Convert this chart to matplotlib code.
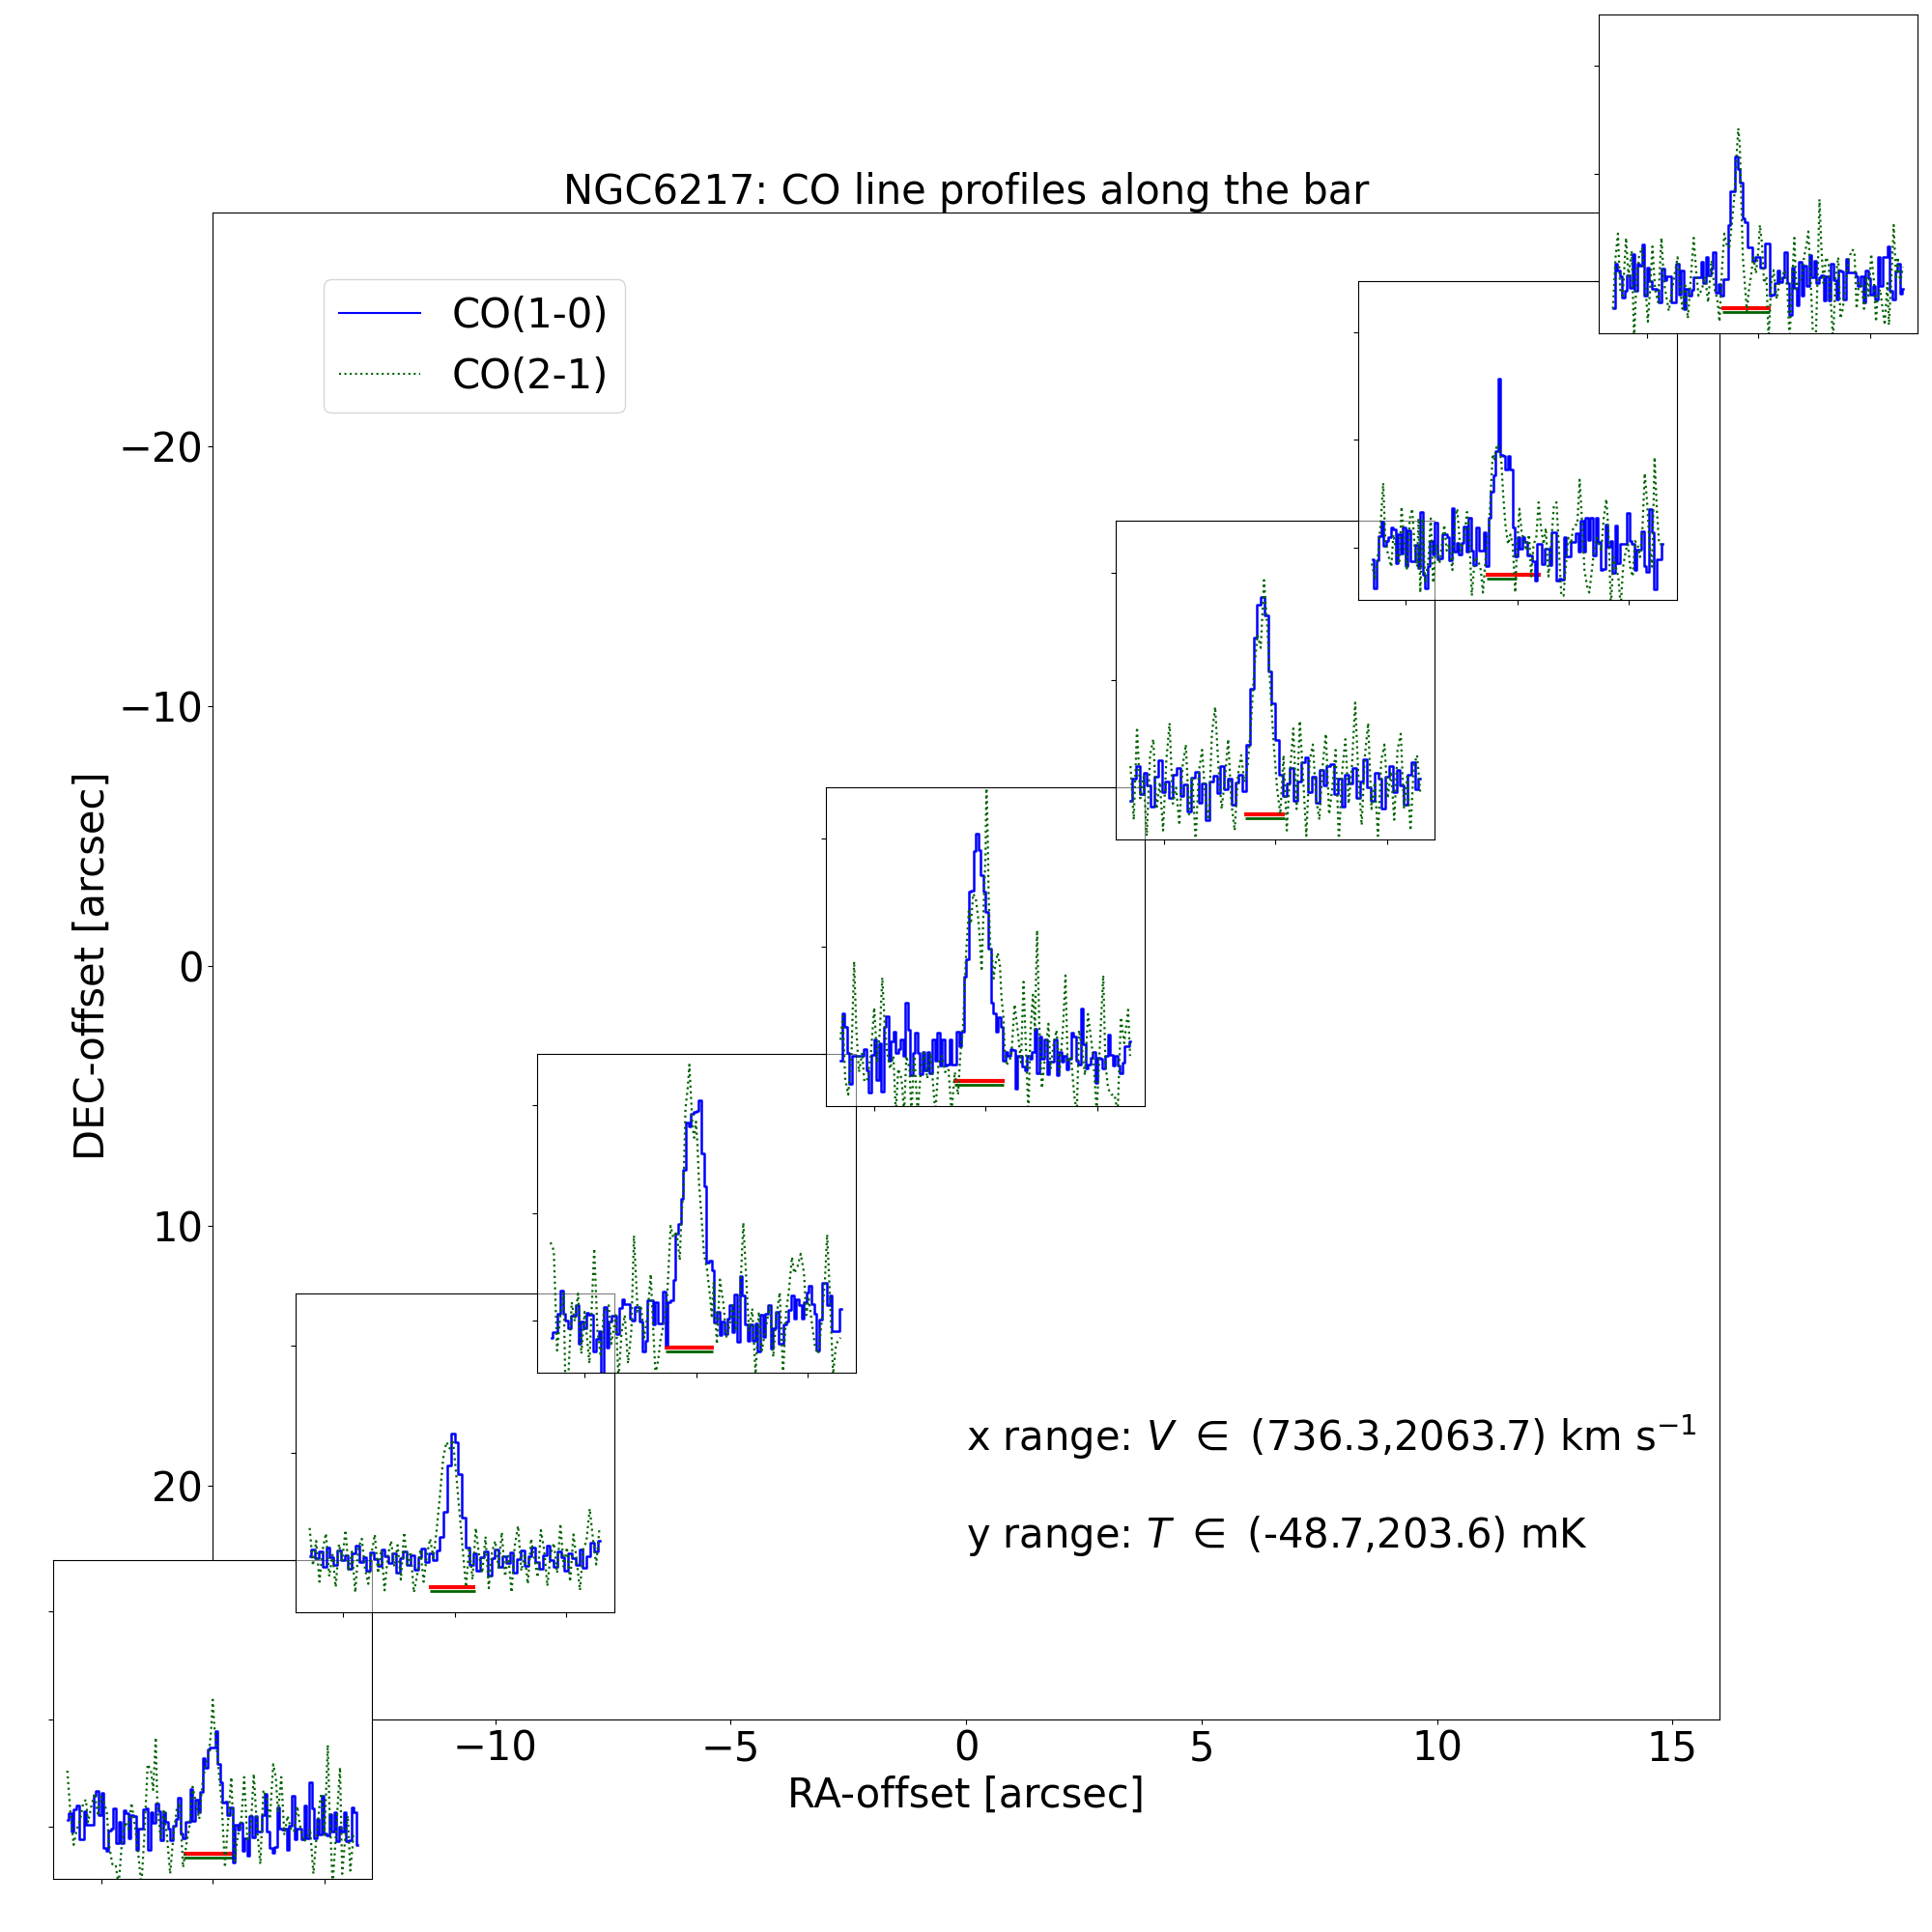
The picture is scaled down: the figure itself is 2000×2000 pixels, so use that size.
import numpy as np
import matplotlib
matplotlib.use("Agg")
import matplotlib.pyplot as plt

plt.rcParams['font.size'] = 30

# positions of the spectra along the bar [arcsec]
ra_offset = [-16.0, -10.86, -5.73, 0.42, 6.57, 11.71, 16.83]
dec_offset = [29.0, 18.75, 9.52, -0.74, -10.99, -20.23, -30.49]

# common ranges of the inset spectra
v_min, v_max = 736.3, 2063.7   # km/s
t_min, t_max = -48.7, 203.6    # mK

# CO(1-0) spectra [mK], equally spaced channels between v_min and v_max
co10_1 = [6, 12, -5, 16, 19.5, -11.7, -11.7, 14, 2, 2, 2, 29, 33, 11, 31, -20, -22.5, -3.6, -2, 17,
          -15.6, 4.5, -15.6, 15, 12, -11, 11, 10, -21.6, -2, -2, 16, 16.5, -21.6, 13, 3.3, 21, 14, -12.6, 13.5,
          4, -2, -12.6, 1, 7, 26.4, -6.6, -11, 4, 4.5, 34.5, 5.4, 25, 13.5, 32, 64, 55, 72, 74, 74,
          89, 58.5, 41, 22.5, 23, 10.5, 18, -33.6, 2, -2.7, 3.3, -23, -10.5, -26.7, 10, -9.6, 10, -4.5, -4.5, 10.5,
          30, -4.5, -20, -24.6, -18.6, 17.4, -1.5, -2.7, -2, -21.6, 1, 28.5, -11.7, -1.5, -2, -11.7, 19.5, -11, 41, 16.5,
          -11, 7, -7.5, 28.5, -6.6, -8, 11.4, -4.5, 13, -14, 0.3, -4.5, 13.5, -14, -12.6, 17.4, 13, -17]
co10_2 = [4, 10, 2, 8, -6, 12, 3, -4, 9, 0, 5, -8, 6, 14, -2, 3, -10, 7, 1, -5,
          10, 4, -3, 6, -12, 2, 8, -4, 5, -9, 3, 11, -2, 6, 0, 9, 22, 45, 88, 118,
          110, 80, 40, 12, -4, 6, -10, 3, 8, -14, 2, 10, -6, 4, -3, 7, -12, 1, 9, -5,
          4, 12, -2, -8, 5, 14, 0, -6, 8, 3, -10, 6, 2, -4, 10, -7, 4, 16, 8, 18]
co10_3 = [-16, -11, -11, 6, 28, 6, 0, -7.5, 4, 4, 14, -22, -1, -7, 7.5, 5, 5, -29, -17, -10,
          -50, 12.6, -25, -1, 4, 4, -13, 12, 20, 15, 15, 2, 0, 12.6, 12.6, -1, -29, -19, 18.6, 18.6,
          -4, 17, -3, -3, 26.7, -23, 17, 18.6, 38, 80.7, 89.7, 113, 140, 184.5, 180.6, 192.6, 194, 195, 205, 155,
          124.5, 53.7, 56, 47, -1.5, 8, -14, -1, -13, 2, 14, -11, 24.6, -19.5, 41, 23, -4, -19, -4, -19,
          -2.4, -29, 5, -15, 6.6, 14, -26, -7, 8, -22, -22, -4, -1, 9.6, 23, 2, 19.5, 14, 2, 17,
          26, 32, 15.6, 6.6, -28, 0.6, 35, 35, 14, 23, -10, -10, -10, 11]
co10_4 = [-6, 37.5, 25.5, 1, -27.6, -1.5, -1.5, -1.5, -1.5, -1.5, 4.5, -15.6, -36, -0.6, 13.5, -24.6, 10, -35, 25, 35,
          -6.6, 11.4, 21, 1, 4, 13.5, -2, 48, 22.5, -20, 1, 20, 1, -18.6, 1.8, -15.6, 1.5, -17.7, 13, -6.6,
          19.5, -10.5, 13.5, -10.5, -9.6, 13, -9.6, -9.6, 20.4, 7, 21, 72, 88, 151, 151.5, 189, 205, 190, 166.5, 151,
          132, 97.5, 48, 37.5, 21, 34, 25, -6.6, 1.5, -1.5, 4.5, 3.3, -32, -1.5, -1.5, -11.7, -15.6, -1.5, -5, 1.5,
          23.4, -17.7, 16.5, -4.5, 13, -18.6, -7.5, -7.5, 13, -19.5, 1.5, -7.5, -2, -14, -5, 19.5, 16, -6.6, -9.6, 42,
          9.3, -13.5, -9.6, -3.6, 1.5, -26.7, -3.6, -5, -13.5, -2, 18.3, -0.6, -10.5, -2, -10.5, -17.7, -8, 7.5, 7.5, 11.4]
co10_5 = [-12, 8, 20, -6, 14, 2, -18, 10, 25, -4, 6, -10, 12, 18, -8, 3, -22, 9, 15, -14,
          4, -30, 6, 11, -5, 20, -2, 8, -16, 5, 12, -3, 40, 92, 140, 170, 177, 160, 108, 78,
          44, 12, -8, 4, 18, -12, 6, 24, 28, -4, 10, -14, 16, 2, 20, 22, -6, 8, -18, 12,
          4, 18, -10, 6, 26, 0, -12, 14, 8, -20, 10, 20, -4, 16, 2, -16, 12, 24, -2, 8]
co10_6 = [-11, -38, -12.3, 10.8, 24.3, 1.8, 5.7, 10, 19, 16.8, -14.7, 12.3, -5.7, 18.3, -17.7, 16, -13, -13, 2.7, -19.2,
          33, -25, -38, -17.7, 6.3, -6.3, 22.8, -11, -10, 12.3, 12.3, 10, -11.7, 37, -4.2, 4, -6.3, 4, 19.8, -4.2,
          27.3, -2.7, -16.2, 19, -2.7, -2.7, 13.8, -17, 27.3, 52, 67, 90, 157, 86, 85, 73, 85, 73, 18.3, -8.7,
          10, -1.2, 9.3, 4.8, -7.2, -7.2, -13, -31, 3.3, 3.3, -15.3, -1.2, -1.2, -16.2, 13.8, 13.8, -31, -29, -30, 9.3,
          -8, -8, 4.8, 4.8, 13, -4.2, 25, -4.2, 28, 7, 28, -7.2, 27.3, 4.8, -20.7, -20, 21.3, 1, 6.3, -23.7,
          20.7, -14.7, 3.3, 3.3, 3.3, 31.8, 6.3, 3.3, -21.3, -2.1, -2.1, 14.7, -17.7, -23, 35.7, 13.8, -38.7, -11, -11, 3.3]
co10_7 = [-25.5, 16, 10, 4, -15.6, -9.6, 5.4, -6.6, 25, -9.6, 16, 14.4, 34, -14, 12, -0.6, -7, -7, -8, -20,
          11.4, 0.3, 4.5, 4.5, -20, -20, 16, -12.6, 9.3, -26, -7.5, -13.5, -8, 3.3, 3.3, 3.3, 17.4, -2, 22, 5.4,
          11.4, 26.4, -11, -2.7, -14, 1.5, 1.5, 52, 83, 83, 116, 104, 91.5, 58.5, 55, 31.5, 31.5, 19, 22, 22.5,
          12, 12, 34.5, 34.5, -14, -12.6, -2, 9.3, -1.5, 3.3, 26.4, -2, -32, 12, -6.6, -22.5, 17.4, -14, 14.4, -5,
          24.3, 3.3, 19, -2, 3.3, 5.4, -18.6, 4, -18.6, 16, 1, -17, 9.3, 8.4, -17, 20.4, 7.5, 7.5, 7.5, 4,
          -4.5, 4.5, -20, 10, 2.4, -12.6, -5, -17, 22, -4.5, 22, 22, 32.4, -9.6, -17, 8.4, 16, -11.7, -7.5]

# CO(2-1) spectra: velocity [km/s] and temperature [mK]
# (None: equally spaced channels between v_min and v_max)
co21_v_1 = [735, 749, 764, 779, 794, 808, 820, 830, 845, 860, 875, 889, 904, 916, 926, 941, 956, 970, 985, 1000,
            1015, 1029, 1044, 1059, 1074, 1088, 1103, 1118, 1128, 1140, 1147, 1162, 1177, 1191, 1206, 1221, 1236, 1250, 1265, 1280,
            1295, 1309, 1324, 1339, 1354, 1368, 1383, 1393, 1401, 1408, 1415, 1427, 1442, 1457, 1471, 1486, 1501, 1516, 1530, 1545,
            1560, 1575, 1589, 1604, 1619, 1633, 1648, 1663, 1678, 1690, 1700, 1715, 1729, 1744, 1759, 1773, 1788, 1803, 1818, 1832,
            1847, 1862, 1877, 1891, 1899, 1913, 1928, 1935, 1950, 1965, 1984, 1994, 2009, 2020, 2031, 2046, 2058]
co21_t_1 = [52, 13, -17, -2, 7, 22, 25, 4, 19, 31, 10, 28, 22, 13, -17, -35, -35, -55, -14, 4,
            -2, 22, 1, -23, -55, -8, 58, 52, 34, 83, 22, -11, 16, -8, -44, -8, 16, 22, -38, -17,
            1, 37, 22, 7, 40, 58, 67, 88, 118, 94, 82, 55, 22, -38, 4, 46, -32, -8, 1, 46,
            -14, -2, 49, -2, -35, 34, 25, 7, 58, 46, 13, 46, -8, 10, -2, -5, 19, -2, -14, -11,
            -2, -44, -8, 22, 31, -8, 76, 22, -55, -8, 55, -44, -8, 10, -41, -8, -8]
co21_v_2 = None
co21_t_2 = [30, -5, 18, -20, 10, 25, -15, 5, -25, 15, 0, 28, -10, 8, -30, 12, 20, -8, -22, 6,
            24, -12, 10, -28, 4, 18, -6, 14, -18, 26, -4, 8, -30, -14, 10, -20, 5, 20, 2, 28,
            60, 95, 110, 104, 112, 80, 45, 10, -25, 12, -18, 30, 5, -12, 22, -26, 8, 18, -8, 26,
            -15, 4, -30, 14, 32, -10, 6, -22, 20, 2, -16, 28, 10, -24, 6, 16, -12, 34, -6, 12,
            -20, 24, 0, -28, 10, 18, 48, 20, -4, 30]
co21_v_3 = [733, 748, 763, 778, 793, 800, 815, 830, 844, 859, 874, 889, 911, 933, 948, 963, 977, 1000, 1011, 1032,
            1044, 1059, 1073, 1088, 1103, 1115, 1132, 1147, 1162, 1177, 1192, 1203, 1214, 1226, 1236, 1251, 1266, 1283, 1295, 1310,
            1325, 1332, 1342, 1351, 1362, 1369, 1376, 1384, 1391, 1399, 1406, 1413, 1425, 1436, 1450, 1465, 1472, 1480, 1495, 1509,
            1524, 1539, 1554, 1568, 1583, 1598, 1616, 1628, 1642, 1657, 1672, 1687, 1701, 1716, 1738, 1753, 1768, 1783, 1798, 1812,
            1824, 1839, 1849, 1864, 1879, 1894, 1904, 1916, 1931, 1945, 1960, 1975, 1990, 2000, 2012, 2027, 2041, 2061]
co21_t_3 = [72.6, 65, -28, 5, 26, -50, -50, 17, -1, 25, -31, 8, -40, 67, -10, -34, 8, 14, -22, 5,
            -55, -10, 5, -40, -10, 79, 8, 14, -16, 5, 43, -7, -50, -37, -19, -4, 17, 88, 77, 83,
            56, 95, 122, 197, 218, 238, 209, 179, 170, 185, 164, 128, 95, 62, 47, 20, 2, 35, -22, 38,
            17, -16, -4, 14, -10, 8, 91, 44, -10, 11, -50, 8, -28, -10, 14, -34, 5, 26, -50, 8,
            26, 59, 44, 50, 62, 44, 5, 20, -4, -25, -31, -1, 38, 80, 26, -50, -22, -16]
co21_v_4 = [734, 745, 756, 770, 785, 797, 807, 819, 834, 844, 859, 874, 889, 903, 915, 926, 937, 948, 962, 977,
            988, 999, 1014, 1026, 1036, 1051, 1059, 1073, 1088, 1103, 1118, 1132, 1147, 1169, 1184, 1199, 1214, 1229, 1243, 1258,
            1273, 1283, 1295, 1310, 1322, 1332, 1342, 1354, 1365, 1373, 1381, 1391, 1399, 1403, 1409, 1413, 1421, 1428, 1436, 1443,
            1455, 1465, 1472, 1480, 1487, 1495, 1502, 1517, 1532, 1546, 1561, 1573, 1583, 1595, 1605, 1616, 1625, 1635, 1645, 1657,
            1669, 1687, 1697, 1709, 1724, 1738, 1753, 1765, 1775, 1790, 1805, 1817, 1827, 1842, 1854, 1868, 1883, 1894, 1908, 1923,
            1938, 1948, 1960, 1975, 1990, 2004, 2019, 2034, 2052, 2061]
co21_t_4 = [13, 35, -23, -38, 1, 86, 22, -17, 1, -26, -23, 1, 43, -8, 22, 71, 28, 1, -14, -2,
            -55, -14, -23, -55, -2, -14, -55, -2, -55, -14, 1, -23, 1, -55, -8, -2, -17, -14, -55, -17,
            -38, -2, 22, 94, 133, 121, 149, 145, 127, 106, 77, 142, 187, 255, 202, 148, 98, 94, 70, 82,
            94, 82, 52, 37, 4, -11, -8, -2, 46, 22, -8, 67, 10, -55, 22, 55, 22, 115, 28, -32,
            -8, 28, -14, 7, 22, -17, 22, 73, -8, -2, -38, -55, 22, 4, -20, 37, 13, -8, -55, 10,
            73, -8, -32, -38, -38, -55, 34, 10, 41, -2]
co21_v_5 = None
co21_t_5 = [20, -30, 56, -10, 10, -45, 30, 45, -20, 5, -40, 25, 60, -15, 0, -35, 20, 40, -25, 10,
            -50, 15, 35, -10, -30, 50, 75, 20, -20, 8, 45, -15, -40, 12, 30, 5, 20, 60, 110, 142,
            130, 193, 150, 90, 40, 0, -25, 30, -40, 15, 55, -20, 62, 10, -45, 25, 40, -10, -30, 20,
            50, -25, 0, 35, -50, 15, 45, -15, 20, 79, 10, -35, 30, 60, -20, 5, -45, 25, 40, -10,
            15, -30, 35, 50, -20, 10, -40, 20, 30, -5]
co21_v_6 = [733, 748, 763, 775, 785, 795, 807, 822, 832, 844, 859, 869, 881, 893, 907, 918, 928, 940, 947, 955,
            966, 977, 992, 1003, 1014, 1028, 1043, 1065, 1076, 1087, 1102, 1114, 1124, 1139, 1154, 1169, 1179, 1191, 1205, 1220,
            1232, 1242, 1257, 1269, 1279, 1287, 1294, 1306, 1316, 1326, 1335, 1345, 1357, 1368, 1378, 1390, 1397, 1409, 1419, 1430,
            1441, 1453, 1463, 1474, 1486, 1497, 1508, 1520, 1530, 1542, 1555, 1567, 1579, 1589, 1601, 1611, 1621, 1633, 1645, 1655,
            1666, 1674, 1685, 1695, 1707, 1719, 1729, 1741, 1751, 1763, 1773, 1784, 1795, 1807, 1817, 1828, 1840, 1850, 1862, 1873,
            1884, 1896, 1906, 1916, 1928, 1938, 1950, 1961, 1972, 1983, 1994, 2005, 2017, 2028, 2039, 2049, 2061]
co21_t_6 = [-15, -30, -3, 27, 60, 6, -6, -18, 12, -3, -15, 38, 6, -21, 27, 36, 3, -18, 27, -42,
            27, -33, -12, 27, -33, 3, -15, 21, -3, 3, -21, 27, 36, -3, 6, 33, 12, -45, -9, -12,
            -21, -42, -3, 15, 57, 87, 81, 96, 93, 81, 48, 21, 3, 12, 3, -42, -3, 36, 15, 6,
            -3, 12, -27, 3, 9, 42, 18, 3, 18, -27, 6, 39, 42, 3, -45, -45, -18, 9, 3, 18,
            21, 21, 63, 27, -21, -36, -42, -21, -3, 9, 3, -3, 27, 45, 15, -55, -9, -18, -27, -55,
            -18, -3, 3, -18, -27, 6, 3, -9, 15, 69, 42, 3, -18, 84, 33, 3, 3]
co21_v_7 = [733, 745, 756, 766, 778, 793, 804, 819, 830, 840, 852, 866, 881, 893, 903, 914, 926, 940, 955, 967,
            977, 989, 999, 1014, 1029, 1041, 1051, 1063, 1076, 1088, 1103, 1115, 1125, 1140, 1155, 1169, 1184, 1199, 1211, 1221,
            1233, 1243, 1254, 1266, 1277, 1288, 1298, 1307, 1314, 1320, 1328, 1339, 1347, 1354, 1365, 1376, 1388, 1399, 1406, 1416,
            1425, 1436, 1446, 1458, 1469, 1483, 1495, 1506, 1521, 1532, 1542, 1554, 1564, 1573, 1583, 1598, 1608, 1620, 1628, 1638,
            1650, 1662, 1672, 1679, 1687, 1697, 1709, 1721, 1731, 1741, 1753, 1765, 1775, 1786, 1798, 1812, 1827, 1839, 1849, 1860,
            1871, 1883, 1894, 1904, 1916, 1928, 1938, 1945, 1957, 1968, 1978, 1990, 1997, 2007, 2019, 2030, 2037, 2049, 2061]
co21_t_7 = [-26, 22, 44, -8, -14, 40, 4, 28, -55, -2, 22, 31, -2, -38, -8, 32, -8, -20, 40, -2,
            -14, -28, -14, 4, 22, -8, -26, -2, -35, -2, 40, 7, -14, -8, 4, -20, 19, -8, -17, -38,
            13, 44, 34, 31, 52, 76, 112, 142, 127, 82, 22, -8, -29, -11, 4, 22, 7, 28, 52, 34,
            -2, 4, -55, -2, 10, -17, -2, 4, 10, -8, -55, 1, 40, -8, 1, 1, 22, 34, 46, 4,
            -55, -55, 16, 76, 34, -2, 22, 16, -20, -55, 4, 22, -35, -26, -2, 19, 29, 28, -26, -2,
            -2, -26, 4, -14, 25, 1, -38, -14, -8, -26, -41, -2, -41, -2, 52, 1, 22, -2, 13]

# velocity windows of the line emission [km/s]
win_10 = [(1266, 1511), (1282, 1496), (1254, 1482), (1254, 1488), (1258, 1445), (1255, 1508), (1231, 1456)]
win_21 = [(1269, 1508), (1285, 1493), (1258, 1477), (1257, 1482), (1261, 1441), (1260, 1397), (1235, 1450)]

co10 = [co10_1, co10_2, co10_3, co10_4, co10_5, co10_6, co10_7]
co21_v = [co21_v_1, co21_v_2, co21_v_3, co21_v_4, co21_v_5, co21_v_6, co21_v_7]
co21_t = [co21_t_1, co21_t_2, co21_t_3, co21_t_4, co21_t_5, co21_t_6, co21_t_7]

fig = plt.figure(figsize=(20, 20), dpi=100)
ax = fig.add_axes([0.11, 0.11, 0.78, 0.78])
ax.set_xlim(-16, 16)
ax.set_ylim(29, -29)
ax.set_xlabel('RA-offset [arcsec]')
ax.set_ylabel('DEC-offset [arcsec]')
ax.set_title('NGC6217: CO line profiles along the bar', fontsize=30)

# legend handles only
ax.plot([], [], color='blue', lw=1.5, label='CO(1-0)')
ax.plot([], [], color='darkgreen', lw=1.5, ls=':', label='CO(2-1)')
ax.legend(loc=(0.0735, 0.867))

ax.text(0.5, 0.178, f'x range: $V\\ \\in$ ({v_min},{v_max}) km s$^{{-1}}$',
        transform=ax.transAxes, va='baseline')
ax.text(0.5, 0.1138, f'y range: $T\\ \\in$ ({t_min},{t_max}) mK',
        transform=ax.transAxes, va='baseline')

# inset spectra
size = 0.165
pad = 0.05 * (v_max - v_min)
xlo, xhi = v_min - pad, v_max + pad
ylo, yhi = t_min, 248.0

for i in range(len(co10)):
    px, py = ax.transData.transform((ra_offset[i], dec_offset[i]))
    fx, fy = fig.transFigure.inverted().transform((px, py))
    left, bottom = fx - size / 2, fy - size / 2
    sub = fig.add_axes([left, bottom, size, size])
    inside = left > 0.11 and bottom > 0.11 and left + size < 0.89 and bottom + size < 0.89
    if inside:
        sub.patch.set_alpha(0.5)

    t10 = co10[i]
    v10 = np.linspace(v_min, v_max, len(t10))
    t21 = co21_t[i]
    if co21_v[i] is None:
        v21 = np.linspace(v_min, v_max, len(t21))
    else:
        v21 = co21_v[i]
    n = min(len(v21), len(t21))

    sub.plot(win_10[i], [-25, -25], color='red', lw=3, solid_capstyle='butt')
    sub.plot(win_21[i], [-29, -29], color='darkgreen', lw=2, solid_capstyle='butt')
    sub.plot(v10, t10, color='blue', lw=1.8, drawstyle='steps-mid')
    sub.plot(v21[:n], t21[:n], color='darkgreen', lw=1.6, ls=':')

    sub.set_xlim(xlo, xhi)
    sub.set_ylim(ylo, yhi)
    sub.set_xticks([xlo + f * (xhi - xlo) for f in (0.15, 0.5, 0.85)])
    sub.set_yticks([0, 100, 200])
    sub.tick_params(labelbottom=False, labelleft=False)

fig.savefig('out.png', dpi=100)
